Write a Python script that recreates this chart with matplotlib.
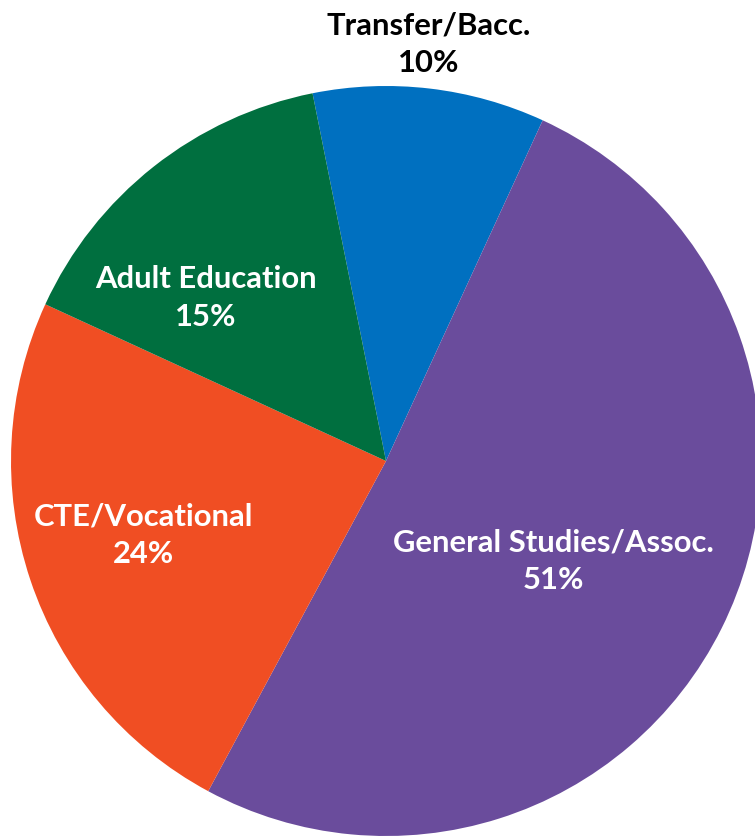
import matplotlib
matplotlib.use("Agg")
import matplotlib.pyplot as plt

categories = ["Transfer/Bacc.", "General Studies/Assoc.", "CTE/Vocational", "Adult Education"]
shares = [10, 51, 24, 15]
colors = ["#0070C0", "#6A4C9C", "#F04E23", "#006F3F"]

# layout: label centres in pixels (x, y from top), and text colour
W, H = 755, 837
CX, CY, R = 386, 462, 375
label_pos = [(429, 44), (553, 561), (143, 535), (206, 298)]
label_col = ["black", "white", "white", "white"]

fig = plt.figure(figsize=(W / 100, H / 100), dpi=100)
ax = fig.add_axes([0, 0, 1, 1])
ax.pie(shares, colors=colors, startangle=101.3, counterclock=False,
       radius=1.0, wedgeprops=dict(linewidth=0))
ax.set_xlim(-CX / R, (W - CX) / R)
ax.set_ylim((CY - H) / R, CY / R)
ax.set_aspect("equal")
ax.axis("off")

for cat, val, (px, py), col in zip(categories, shares, label_pos, label_col):
    x = (px - CX) / R
    y = (CY - py) / R
    ax.text(x, y, f"{cat}\n{val}%", ha="center", va="center", color=col,
            fontsize=22.3, fontweight="bold", family="Lato", linespacing=1.4)

fig.savefig("out.png", dpi=100)
